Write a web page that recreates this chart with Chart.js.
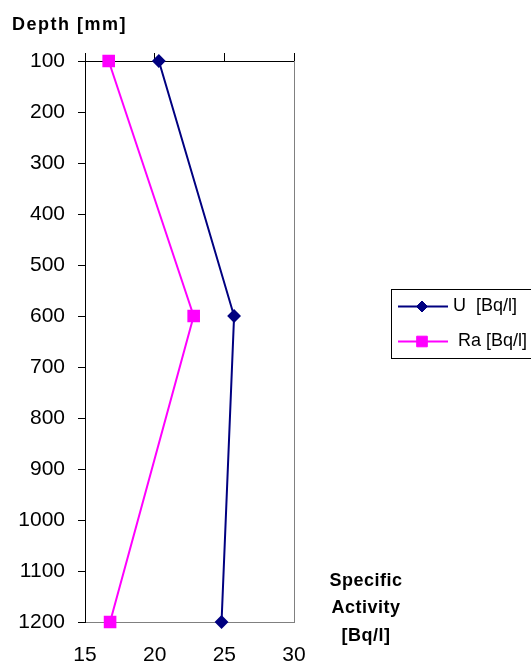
<!DOCTYPE html>
<html>
<head>
<meta charset="utf-8">
<script src="https://cdn.jsdelivr.net/npm/chart.js@4/dist/chart.umd.min.js"></script>
<style>
  html, body { margin: 0; padding: 0; background: #fff; }
  #wrap { position: relative; width: 531px; height: 664px; overflow: hidden; }
</style>
</head>
<body>
<div id="wrap"><canvas id="c" width="531" height="664"></canvas></div>
<script>
const depths = [100, 600, 1200];
const uValues = [20.3, 25.7, 24.8];
const raValues = [16.7, 22.8, 16.8];
const seriesNames = ['U  [Bq/l]', ' Ra [Bq/l]'];
const xTicks = [15, 20, 25, 30];
const yTicks = [100, 200, 300, 400, 500, 600, 700, 800, 900, 1000, 1100, 1200];
const yTitle = 'Depth [mm]';
const xTitleLines = ['Specific', 'Activity', '[Bq/l]'];

const FONT = "'Liberation Sans', Arial, sans-serif";

const toPoints = (xs) => xs.map((v, i) => ({ x: v, y: depths[i] }));

const overlay = {
  id: 'overlay',
  afterDraw(chart) {
    const ctx = chart.ctx;
    ctx.save();
    ctx.fillStyle = '#000';
    ctx.font = 'bold 18px ' + FONT;
    ctx.textBaseline = 'alphabetic';
    ctx.textAlign = 'left';
    try { ctx.letterSpacing = '1.5px'; } catch (e) {}
    ctx.fillText(yTitle, 12, 30);
    try { ctx.letterSpacing = '0.5px'; } catch (e) {}
    ctx.textAlign = 'center';
    ctx.textBaseline = 'middle';
    const ys = [581, 608, 636];
    xTitleLines.forEach((t, i) => ctx.fillText(t, 366, ys[i]));
    try { ctx.letterSpacing = '0px'; } catch (e) {}
    // legend box
    ctx.strokeStyle = '#000';
    ctx.lineWidth = 1;
    ctx.strokeRect(391.5, 289.5, 160, 69);
    const rowsY = [306.5, 341.5];
    const textX = [453, 453];
    chart.data.datasets.forEach((ds, i) => {
      const y = rowsY[i];
      ctx.strokeStyle = ds.borderColor;
      ctx.lineWidth = ds.borderWidth;
      ctx.beginPath();
      ctx.moveTo(398, y);
      ctx.lineTo(448, y);
      ctx.stroke();
      ctx.save();
      ctx.fillStyle = ds.pointBackgroundColor;
      ctx.strokeStyle = ds.pointBorderColor;
      ctx.lineWidth = 1;
      Chart.helpers.drawPoint(ctx, { pointStyle: ds.pointStyle, radius: ds.pointRadius, borderWidth: 1, rotation: 0 }, 422, y);
      ctx.restore();
      ctx.fillStyle = '#000';
      ctx.font = '18px ' + FONT;
      ctx.textAlign = 'left';
      ctx.textBaseline = 'middle';
      ctx.fillText(seriesNames[i], textX[i], y);
    });
    ctx.restore();
  }
};

const plainLabel = (v) => String(v);

new Chart(document.getElementById('c'), {
  type: 'scatter',
  data: {
    datasets: [
      {
        label: seriesNames[0],
        data: toPoints(uValues),
        showLine: true,
        clip: false,
        borderColor: '#000080',
        borderWidth: 2,
        pointStyle: 'rectRot',
        pointRadius: 5.5,
        pointBackgroundColor: '#000080',
        pointBorderColor: '#000080',
        xAxisID: 'x', yAxisID: 'y'
      },
      {
        label: seriesNames[1],
        data: toPoints(raValues),
        showLine: true,
        clip: false,
        borderColor: '#FF00FF',
        borderWidth: 2,
        pointStyle: 'rect',
        pointRadius: 7.5,
        pointBackgroundColor: '#FF00FF',
        pointBorderColor: '#FF00FF',
        xAxisID: 'x', yAxisID: 'y'
      }
    ]
  },
  options: {
    responsive: false,
    animation: false,
    layout: { padding: 0 },
    plugins: { legend: { display: false }, tooltip: { enabled: false }, title: { display: false } },
    scales: {
      x: {
        type: 'linear', position: 'bottom', min: 15, max: 30,
        afterBuildTicks: (s) => { s.ticks = xTicks.map(v => ({ value: v })); },
        afterFit: (s) => { s.height = 42; },
        grid: { display: false, drawTicks: false },
        border: { display: true, color: '#808080', width: 1 },
        ticks: { color: '#000', font: { family: FONT, size: 21 }, padding: 21, maxRotation: 0, callback: plainLabel }
      },
      x2: {
        type: 'linear', position: 'top', min: 15, max: 30,
        afterBuildTicks: (s) => { s.ticks = xTicks.map(v => ({ value: v })); },
        afterFit: (s) => { s.height = 61; },
        grid: { display: true, drawOnChartArea: false, drawTicks: true, tickLength: 8, color: '#000' },
        border: { display: true, color: '#000', width: 1 },
        ticks: { display: false }
      },
      y: {
        type: 'linear', position: 'left', reverse: true, min: 100, max: 1200,
        afterBuildTicks: (s) => { s.ticks = yTicks.map(v => ({ value: v })); },
        afterFit: (s) => { s.width = 85; },
        grid: { display: true, drawOnChartArea: false, drawTicks: true, tickLength: 7, color: '#000' },
        border: { display: true, color: '#000', width: 1 },
        ticks: { color: '#000', font: { family: FONT, size: 21 }, padding: 13, callback: plainLabel }
      },
      y2: {
        type: 'linear', position: 'right', reverse: true, min: 100, max: 1200,
        afterFit: (s) => { s.width = 237; },
        grid: { display: false, drawTicks: false },
        border: { display: true, color: '#808080', width: 1 },
        ticks: { display: false }
      }
    }
  },
  plugins: [overlay]
});
</script>
</body>
</html>
